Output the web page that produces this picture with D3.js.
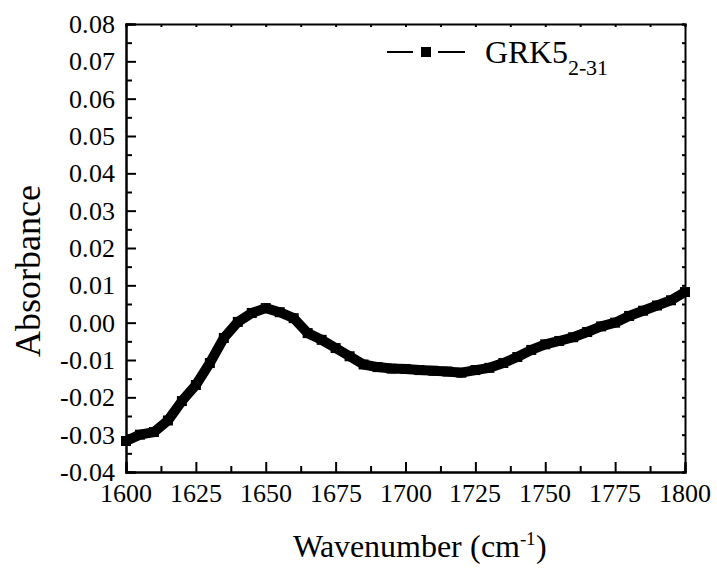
<!DOCTYPE html>
<html>
<head>
<meta charset="utf-8">
<script src="https://cdn.jsdelivr.net/npm/d3@7"></script>
<style>
  @font-face { font-family: "ChartSerif"; src: local("Liberation Serif"), local("LiberationSerif-Regular"), local("Times New Roman"); }
  svg text { font-family: "ChartSerif", "Times New Roman", "Liberation Serif"; }
</style>
</head>
<body style="margin:0">
<script>
// wavenumber (cm-1) and absorbance
const wavenumbers = [1600, 1605, 1610, 1615, 1620, 1625, 1630, 1635, 1640, 1645,
    1650, 1655, 1660, 1665, 1670, 1675, 1680, 1685, 1690, 1695,
    1700, 1705, 1710, 1715, 1720, 1725, 1730, 1735, 1740, 1745,
    1750, 1755, 1760, 1765, 1770, 1775, 1780, 1785, 1790, 1795, 1800];
const absorbance = [-0.0317, -0.0300, -0.0293, -0.0262, -0.0210, -0.0167, -0.0108, -0.0041, 0.0002, 0.0026,
    0.0039, 0.0028, 0.0012, -0.0028, -0.0046, -0.0068, -0.0090, -0.0112, -0.0119, -0.0123,
    -0.0124, -0.0127, -0.0129, -0.0131, -0.0134, -0.0127, -0.0121, -0.0108, -0.0092, -0.0073,
    -0.0058, -0.0049, -0.0039, -0.0025, -0.0010, 0.0000, 0.0018, 0.0032, 0.0046, 0.0060, 0.0082];
const xTicks = [1600, 1625, 1650, 1675, 1700, 1725, 1750, 1775, 1800];
const yTicks = [-0.04, -0.03, -0.02, -0.01, 0.00, 0.01, 0.02, 0.03, 0.04, 0.05, 0.06, 0.07, 0.08];
const seriesName = "GRK5";
const seriesSub = "2-31";

const W = 717, H = 569;
const margin = { top: 24, right: 32, bottom: 97, left: 126 };
const width = W - margin.left - margin.right,
      height = H - margin.top - margin.bottom;

const svg = d3.select("body").append("svg")
    .attr("width", W).attr("height", H);
const g = svg.append("g")
    .attr("transform", `translate(${margin.left},${margin.top})`);

const x = d3.scaleLinear().domain([1600, 1800]).range([0, width]);
const y = d3.scaleLinear().domain([-0.04, 0.08]).range([height, 0]);

const fmtY = v => d3.format(".2f")(v).replace("\u2212", "-");
const xMinor = xTicks.slice(0, -1).map(t => t + 12.5);
const yMinor = yTicks.slice(0, -1).map(t => t + 0.005);

// data: thick line + square markers
const pts = wavenumbers.map((w, i) => [w, absorbance[i]]);
g.append("path")
    .datum(pts)
    .attr("fill", "none")
    .attr("stroke", "#000")
    .attr("stroke-width", 10)
    .attr("stroke-linejoin", "round")
    .attr("d", d3.line().x(d => x(d[0])).y(d => y(d[1])));
g.selectAll("rect.pt")
    .data(pts)
    .join("rect")
    .attr("class", "pt")
    .attr("x", d => x(d[0]) - 5)
    .attr("y", d => y(d[1]) - 5)
    .attr("width", 10)
    .attr("height", 10)
    .attr("fill", "#000");

// ticks drawn by the axes, labels written separately below
const bottom = g.append("g").attr("transform", `translate(0,${height})`);
bottom.call(d3.axisBottom(x).tickValues(xTicks).tickSize(-10).tickFormat(""));
bottom.append("g").call(d3.axisBottom(x).tickValues(xMinor).tickSize(-6).tickFormat(""));
const left = g.append("g");
left.call(d3.axisLeft(y).tickValues(yTicks).tickSize(-10).tickFormat(""));
left.append("g").call(d3.axisLeft(y).tickValues(yMinor).tickSize(-6).tickFormat(""));
g.append("g").call(d3.axisTop(x).tickValues(xTicks.concat(xMinor)).tickSize(-3).tickFormat(""));
g.append("g").attr("transform", `translate(${width},0)`)
    .call(d3.axisRight(y).tickValues(yTicks.concat(yMinor)).tickSize(-3).tickFormat(""));
g.selectAll(".domain").attr("stroke", "#000").attr("stroke-width", 2);
g.selectAll(".tick line").attr("stroke", "#000").attr("stroke-width", 2);

// tick labels
svg.selectAll("text.xl")
    .data(xTicks)
    .join("text")
    .attr("class", "xl")
    .attr("font-size", 26)
    .attr("y", margin.top + height + 30)
    .text(d => d)
    .attr("x", function (d) { return margin.left + x(d) - this.getComputedTextLength() / 2; });

svg.selectAll("text.yl")
    .data(yTicks)
    .join("text")
    .attr("class", "yl")
    .attr("font-size", 26)
    .attr("y", d => margin.top + y(d) + 9)
    .text(fmtY)
    .attr("x", function () { return margin.left - 11 - this.getComputedTextLength(); });

// axis titles
const yt = svg.append("text")
    .attr("font-size", 36)
    .text("Absorbance");
yt.attr("transform", `translate(40,${271 + yt.node().getComputedTextLength() / 2}) rotate(-90)`);

const xt = svg.append("text")
    .attr("y", 557)
    .attr("font-size", 32);
xt.append("tspan").text("Wavenumber (cm");
xt.append("tspan").attr("dy", -12).attr("font-size", 19).text("-1");
xt.append("tspan").attr("dy", 12).text(")");
xt.attr("x", margin.left + width / 2 + 14 - xt.node().getComputedTextLength() / 2);

// legend
const lg = svg.append("g");
lg.append("line").attr("x1", 387).attr("x2", 413).attr("y1", 52).attr("y2", 52)
    .attr("stroke", "#000").attr("stroke-width", 2);
lg.append("line").attr("x1", 438).attr("x2", 465).attr("y1", 52).attr("y2", 52)
    .attr("stroke", "#000").attr("stroke-width", 2);
lg.append("rect").attr("x", 421).attr("y", 47).attr("width", 10).attr("height", 10).attr("fill", "#000");
const lt = lg.append("text").attr("x", 485).attr("y", 63)
    .attr("font-size", 32);
lt.append("tspan").text(seriesName);
lt.append("tspan").attr("dy", 12).attr("font-size", 22).text(seriesSub);
</script>
</body>
</html>
